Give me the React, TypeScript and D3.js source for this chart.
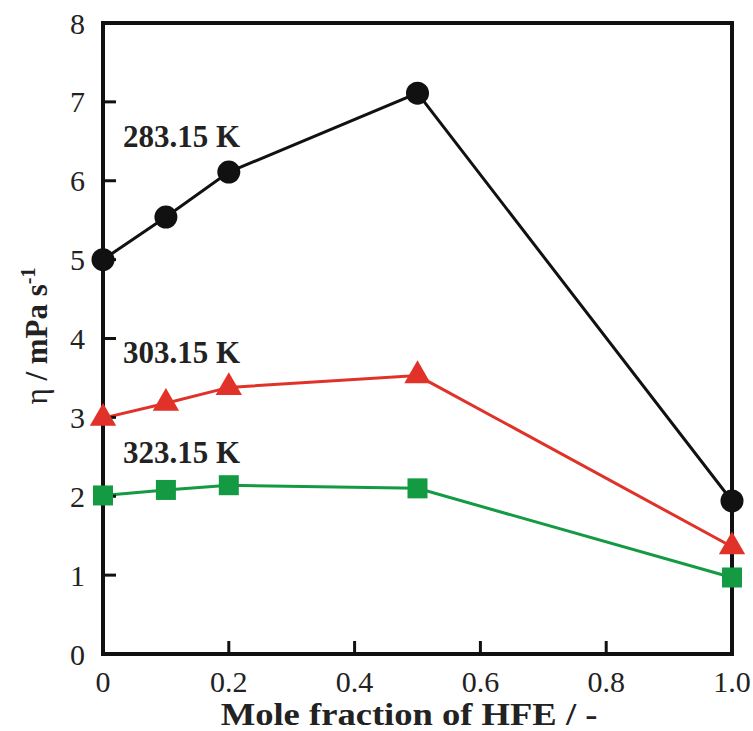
import React from "react";
import * as d3 from "d3";

const xValues = [0, 0.1, 0.2, 0.5, 1.0];
const series283 = [5.0, 5.54, 6.11, 7.11, 1.94];
const series303 = [2.99, 3.18, 3.38, 3.53, 1.36];
const series323 = [2.01, 2.08, 2.14, 2.10, 0.97];
const xTicks = [0, 0.2, 0.4, 0.6, 0.8, 1.0];
const xTickLabels = ["0", "0.2", "0.4", "0.6", "0.8", "1.0"];
const yTicks = [0, 1, 2, 3, 4, 5, 6, 7, 8];
const seriesLabels = ["283.15 K", "303.15 K", "323.15 K"];

const W = 753, H = 731;
const left = 103, right = 732, top = 23, bottom = 654;
const font = "'Liberation Serif', 'Times New Roman', serif";

export default function App() {
  const x = d3.scaleLinear().domain([0, 1]).range([left, right]);
  const y = d3.scaleLinear().domain([0, 8]).range([bottom, top]);
  const line = d3.line<number>().x((_, i) => x(xValues[i])).y((d) => y(d));
  const tri = d3.symbol().type(d3.symbolTriangle).size(300)() as string;

  return (
    <svg width={W} height={H} style={{ position: "absolute", left: 0, top: 0, background: "#fff" }}>
      {/* lines */}
      <path d={line(series283) as string} fill="none" stroke="#111" strokeWidth={3} />
      <path d={line(series303) as string} fill="none" stroke="#e03228" strokeWidth={3} />
      <path d={line(series323) as string} fill="none" stroke="#139a43" strokeWidth={3} />

      {/* axes frame */}
      <rect x={left} y={top} width={right - left} height={bottom - top} fill="none" stroke="#111" strokeWidth={4} />
      {yTicks.map((t) => (
        <g key={"y" + t}>
          {t > 0 && t < 8 && <line x1={left} x2={left + 13} y1={y(t)} y2={y(t)} stroke="#111" strokeWidth={3} />}
          <text x={left - 18} y={y(t)} dy="0.35em" textAnchor="end" fontFamily={font} fontSize={30} fill="#222">{t}</text>
        </g>
      ))}
      {xTicks.map((t, i) => (
        <g key={"x" + t}>
          {t > 0 && t < 1 && <line x1={x(t)} x2={x(t)} y1={bottom} y2={bottom - 13} stroke="#111" strokeWidth={3} />}
          <text x={x(t)} y={692} textAnchor="middle" fontFamily={font} fontSize={30} fill="#222">{xTickLabels[i]}</text>
        </g>
      ))}

      {/* markers */}
      {series283.map((v, i) => (
        <circle key={"c" + i} cx={x(xValues[i])} cy={y(v)} r={11.5} fill="#111" />
      ))}
      {series303.map((v, i) => (
        <path key={"t" + i} d={tri} transform={`translate(${x(xValues[i])},${y(v)})`} fill="#e03228" />
      ))}
      {series323.map((v, i) => (
        <rect key={"s" + i} x={x(xValues[i]) - 10} y={y(v) - 10} width={20} height={20} fill="#139a43" />
      ))}

      {/* series labels */}
      <text x={123} y={147} fontFamily={font} fontSize={31} fontWeight="bold" fill="#222">{seriesLabels[0]}</text>
      <text x={123} y={363} fontFamily={font} fontSize={31} fontWeight="bold" fill="#222">{seriesLabels[1]}</text>
      <text x={123} y={463} fontFamily={font} fontSize={31} fontWeight="bold" fill="#222">{seriesLabels[2]}</text>

      {/* axis titles */}
      <text transform="translate(409,725) scale(1.18,1)" textAnchor="middle" fontFamily={font} fontSize={31} fontWeight="bold" fill="#222">Mole fraction of HFE / -</text>
      <text transform="translate(47,336) rotate(-90)" textAnchor="middle" fontFamily={font} fontSize={31} fill="#222">
        <tspan>η </tspan>
        <tspan fontWeight="bold">/ mPa s</tspan>
        <tspan fontWeight="bold" fontSize={20} dy={-12}>-1</tspan>
      </text>
    </svg>
  );
}
